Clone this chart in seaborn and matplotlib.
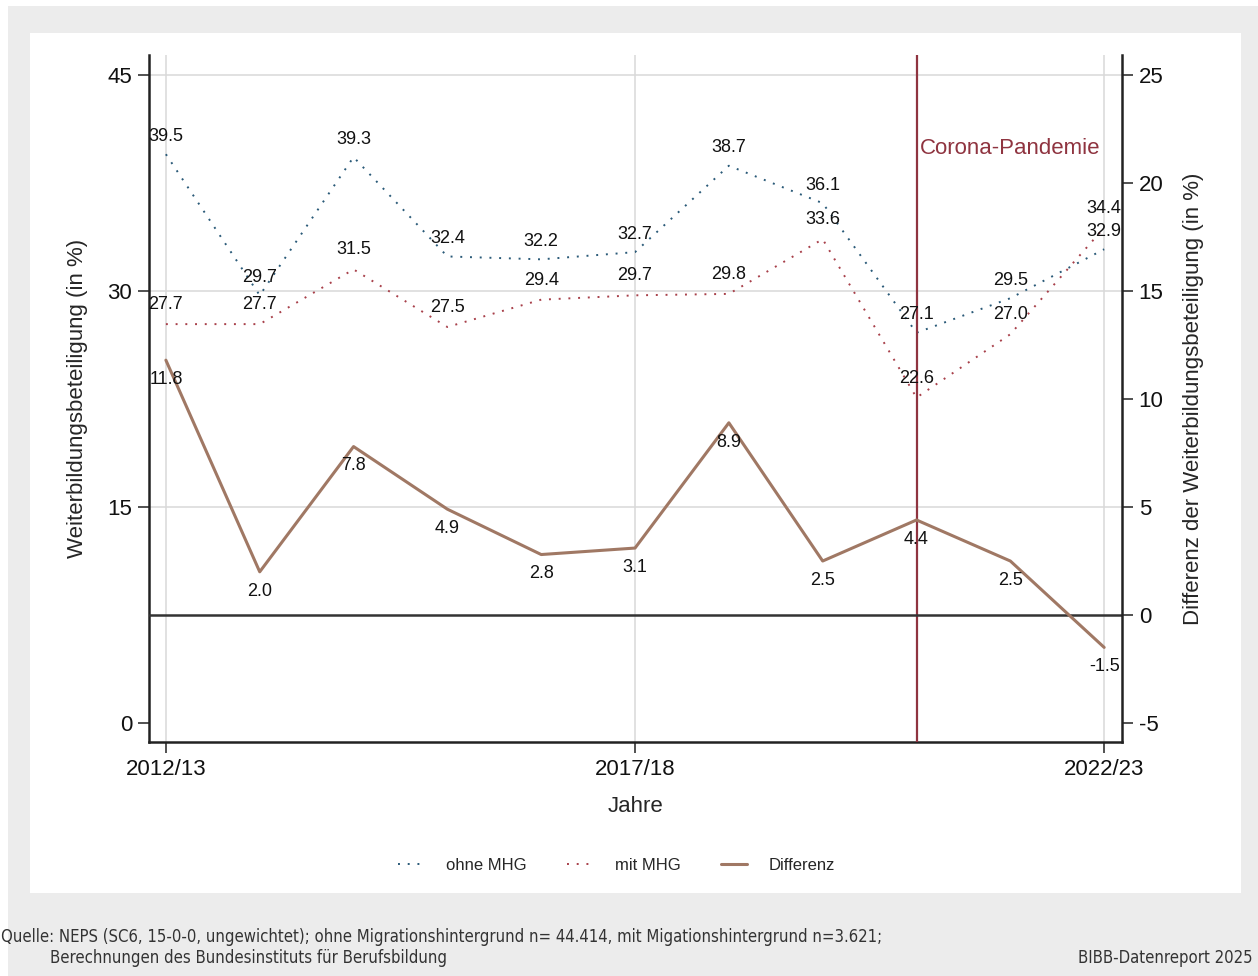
import numpy as np
import pandas as pd
import matplotlib
matplotlib.use("Agg")
import matplotlib.pyplot as plt
from matplotlib.patches import Rectangle
import seaborn as sns

years = ["2012/13", "2013/14", "2014/15", "2015/16", "2016/17", "2017/18",
         "2018/19", "2019/20", "2020/21", "2021/22", "2022/23"]
ohne_mhg = [39.5, 29.7, 39.3, 32.4, 32.2, 32.7, 38.7, 36.1, 27.1, 29.5, 32.9]
mit_mhg = [27.7, 27.7, 31.5, 27.5, 29.4, 29.7, 29.8, 33.6, 22.6, 27.0, 34.4]
differenz = [11.8, 2.0, 7.8, 4.9, 2.8, 3.1, 8.9, 2.5, 4.4, 2.5, -1.5]
tick_years = ["2012/13", "2017/18", "2022/23"]
corona_year = "2020/21"

sns.set_style("white")
plt.rcParams["font.family"] = ["Liberation Sans", "DejaVu Sans"]
plt.rcParams["axes.unicode_minus"] = False

df = pd.DataFrame({"pos": range(len(years)), "jahr": years,
                   "ohne MHG": ohne_mhg, "mit MHG": mit_mhg, "Differenz": differenz})

c_ohne = "#2a5a78"
c_mit = "#a8404a"
c_diff = "#a07864"
c_corona = "#8f3440"

fig = plt.figure(figsize=(12.58, 9.76), dpi=100)
fig.patch.set_facecolor("white")
fig.patches.append(Rectangle((8 / 1258, 0), 1 - 8 / 1258, 1 - 6 / 976, transform=fig.transFigure,
                             facecolor="#ececec", edgecolor="none", zorder=-10))
fig.patches.append(Rectangle((30 / 1258, 1 - 893 / 976), (1241 - 30) / 1258, (893 - 33) / 976,
                             transform=fig.transFigure, facecolor="white", edgecolor="none", zorder=-9))

ax = fig.add_axes([149 / 1258, 1 - 742 / 976, (1122 - 149) / 1258, (742 - 55) / 976])
ax.set_facecolor("none")
ax2 = ax.twinx()

sns.lineplot(data=df, x="pos", y="ohne MHG", ax=ax, color=c_ohne, linestyle=(0, (1, 4)),
             linewidth=1.4, label="ohne MHG", legend=False)
sns.lineplot(data=df, x="pos", y="mit MHG", ax=ax, color=c_mit, linestyle=(0, (1, 4)),
             linewidth=1.4, label="mit MHG", legend=False)
sns.lineplot(data=df, x="pos", y="Differenz", ax=ax2, color=c_diff, linewidth=2.2,
             label="Differenz", legend=False)

# grid
for v in [15, 30, 45]:
    ax.axhline(v, color="#d8d8d8", linewidth=1.1, zorder=0)
tick_pos = [years.index(t) for t in tick_years]
for p in tick_pos:
    ax.axvline(p, color="#d8d8d8", linewidth=1.1, zorder=0)
ax2.axhline(0, color="#333333", linewidth=1.8, zorder=1)
cpos = years.index(corona_year)
ax.axvline(cpos, color=c_corona, linewidth=1.6, zorder=3)
ax.text(cpos + 0.04, 39.9, "Corona-Pandemie", color=c_corona, fontsize=16, va="center", ha="left")

ax.set_xlim(-0.18, 10.19)
ax.set_ylim(-1.32, 46.39)
ax2.set_ylim(-5.88, 25.93)
ax.set_xticks(tick_pos)
ax.set_xticklabels(tick_years)
ax.set_yticks([0, 15, 30, 45])
ax2.set_yticks([-5, 0, 5, 10, 15, 20, 25])

ax.tick_params(axis="x", bottom=True, labelsize=16, length=8, width=1.2, color="#333333",
               labelcolor="#111111", direction="out", pad=4)
ax.tick_params(axis="y", left=True, labelsize=16, length=8, width=1.2, color="#333333",
               labelcolor="#111111", direction="out", pad=4)
ax2.tick_params(axis="y", right=True, labelsize=16, length=8, width=1.2, color="#333333",
                labelcolor="#111111", direction="out", pad=4)
for a in (ax, ax2):
    a.spines["top"].set_visible(False)
    for s in ["left", "right", "bottom"]:
        a.spines[s].set_color("#222222")
        a.spines[s].set_linewidth(1.8)
ax.spines["right"].set_visible(False)
ax2.spines["left"].set_visible(False)
ax2.spines["bottom"].set_visible(False)

ax.set_xlabel("Jahre", fontsize=16, labelpad=12)
ax.set_ylabel("Weiterbildungsbeteiligung (in %)", fontsize=16, labelpad=14)
ax2.set_ylabel("Differenz der Weiterbildungsbeteiligung (in %)", fontsize=16, labelpad=14)

# value labels
for i, v in enumerate(ohne_mhg):
    ax.annotate(f"{v:.1f}", (i, v), xytext=(0, 13), textcoords="offset points",
                ha="center", va="center", fontsize=13, color="#111111")
for i, v in enumerate(mit_mhg):
    ax.annotate(f"{v:.1f}", (i, v), xytext=(0, 14), textcoords="offset points",
                ha="center", va="center", fontsize=13, color="#111111")
for i, v in enumerate(differenz):
    ax2.annotate(f"{v:.1f}", (i, v), xytext=(0, -14), textcoords="offset points",
                 ha="center", va="center", fontsize=13, color="#111111")

h1, l1 = ax.get_legend_handles_labels()
h2, l2 = ax2.get_legend_handles_labels()
fig.legend(h1 + h2, l1 + l2, loc="center", bbox_to_anchor=(0.49, 1 - 865 / 976), ncol=3,
           frameon=False, fontsize=12, handlelength=1.6, columnspacing=2.4, handletextpad=1.3)

src_font = dict(family="DejaVu Sans", stretch="condensed", fontsize=12, color="#333333")
fig.text(1 / 1258, 1 - 937 / 976,
         "Quelle: NEPS (SC6, 15-0-0, ungewichtet); ohne Migrationshintergrund n= 44.414, "
         "mit Migationshintergrund n=3.621;", va="center", ha="left", **src_font)
fig.text(50 / 1258, 1 - 958 / 976, "Berechnungen des Bundesinstituts für Berufsbildung",
         va="center", ha="left", **src_font)
fig.text(1253 / 1258, 1 - 958 / 976, "BIBB-Datenreport 2025", va="center", ha="right", **src_font)

fig.savefig("out.png", dpi=100, facecolor=fig.get_facecolor())
